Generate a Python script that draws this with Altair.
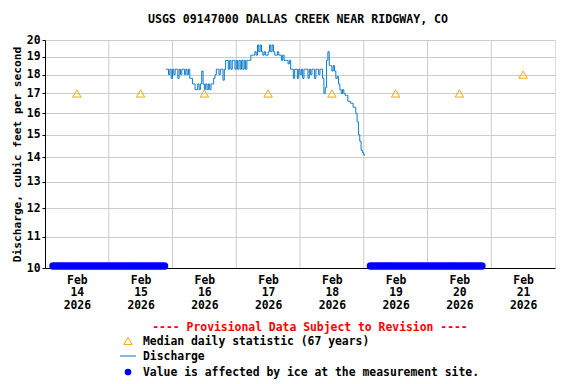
import altair as alt
import pandas as pd

FONT = "DejaVu Sans Mono"
FS = 11.4

# ---- data ----
flow_start = "2026-02-15T21:30:00"
flow_values = [
    18.3, 18.3, 18.0, 18.3, 17.8, 18.3, 18.0, 18.3, 18.3, 17.8, 18.3, 18.0, 18.3, 18.3, 18.0, 18.3, 18.0, 18.3,
    17.8, 17.8, 17.5, 17.5,
    17.2, 17.2, 17.5, 17.2, 17.5, 18.2, 17.5, 17.2, 17.5, 17.2, 17.5, 17.2, 17.5, 17.5,
    17.8, 18.0, 18.3, 18.3, 18.0, 18.3, 18.3,
    17.7, 18.3, 18.8,
    18.8, 18.3, 18.8, 18.3, 18.8, 18.8, 18.3, 18.8, 18.3, 18.8, 18.3, 18.8, 18.3, 18.8, 18.3, 18.8, 18.8, 18.8,
    19.1, 19.1, 19.1, 19.3, 19.1,
    19.7, 19.3, 19.7,
    19.3, 19.1, 19.3, 19.1, 19.1, 19.3,
    19.7, 19.3, 19.7, 19.3, 19.1,
    19.1, 19.3, 19.1, 19.1, 18.8, 19.1, 18.8,
    18.8, 18.8, 18.6, 18.8, 18.3,
    18.3, 17.8, 18.3, 18.3, 17.8, 18.3, 18.0, 18.3, 17.8, 18.3, 18.3, 18.3, 17.8, 18.3, 18.0, 18.3, 18.3, 17.8,
    18.3, 18.3, 18.0, 18.3, 18.3,
    17.8, 17.0, 17.3,
    18.8, 19.3, 18.5,
    18.5, 18.2, 18.5, 18.2, 17.8, 17.9,
    17.5, 17.2, 17.0, 17.2, 17.0,
    16.9, 16.9, 16.6, 16.6,
    16.5, 16.5, 16.3, 16.3,
    16.0, 15.6, 15.0,
    14.7, 14.3, 14.2,
    14.1, 14.1,
]

median_days = ["2026-02-14T12:00:00", "2026-02-15T12:00:00", "2026-02-16T12:00:00", "2026-02-17T12:00:00",
               "2026-02-18T12:00:00", "2026-02-19T12:00:00", "2026-02-20T12:00:00", "2026-02-21T12:00:00"]
median_values = [17, 17, 17, 17, 17, 17, 17, 18]

ice_periods = [("2026-02-14T03:00:00", "2026-02-15T21:00:00"),
               ("2026-02-19T02:30:00", "2026-02-20T21:00:00")]
ice_value = 10

midnights = ["2026-02-15", "2026-02-16", "2026-02-17", "2026-02-18",
             "2026-02-19", "2026-02-20", "2026-02-21"]
y_ticks = [10, 11, 12, 13, 14, 15, 16, 17, 18, 19, 20]
label_days = [14, 15, 16, 17, 18, 19, 20, 21]

title_text = "USGS 09147000 DALLAS CREEK NEAR RIDGWAY, CO"
y_title = "Discharge, cubic feet per second"
provisional = "---- Provisional Data Subject to Revision ----"
legend_labels = ["Median daily statistic (67 years)", "Discharge",
                 "Value is affected by ice at the measurement site."]

# ---- tables ----
flow_df = pd.DataFrame({
    "time": pd.date_range(flow_start, periods=len(flow_values), freq="30min"),
    "q": flow_values,
})
median_df = pd.DataFrame({"time": pd.to_datetime(median_days), "q": median_values})
ice_times = []
for s, e in ice_periods:
    ice_times.extend(pd.date_range(s, e, freq="60min"))
ice_df = pd.DataFrame({"time": ice_times, "q": ice_value})
grid_df = pd.DataFrame({"time": pd.to_datetime(midnights)})

W, H = 510, 228

xscale = alt.Scale(domain=[alt.DateTime(year=2026, month=2, date=14),
                           alt.DateTime(year=2026, month=2, date=22)])
yscale = alt.Scale(type="log", domain=[10, 20])

xaxis = alt.Axis(
    values=[alt.DateTime(year=2026, month=2, date=d, hours=12) for d in label_days],
    labelExpr="[timeFormat(datum.value, '%b'), timeFormat(datum.value, '%d'), timeFormat(datum.value, '%Y')]",
    grid=False, ticks=False, title=None, labelFont=FONT, labelFontWeight="bold",
    labelFontSize=FS, labelColor="black", labelLineHeight=12.5, labelPadding=6,
    domainColor="black",
)
yaxis = alt.Axis(
    values=y_ticks, format="d", grid=True, gridColor="#CCCCCC", tickSize=3,
    tickColor="black", domainColor="black", labelFont=FONT, labelFontWeight="bold",
    labelFontSize=FS, labelColor="black", labelPadding=2, title=y_title,
    titleFont=FONT, titleFontWeight="bold", titleFontSize=11.2, titleColor="black",
    titlePadding=4,
)

grid = alt.Chart(grid_df).mark_rule(color="#CCCCCC", strokeWidth=1).encode(
    x=alt.X("time:T", scale=xscale, axis=xaxis)
)

base_y = alt.Y("q:Q", scale=yscale, axis=yaxis)

line = alt.Chart(flow_df).mark_line(color="#0B7BC9", strokeWidth=1, interpolate="step-after").encode(
    x=alt.X("time:T", scale=xscale, axis=xaxis), y=base_y
)
med = alt.Chart(median_df).mark_point(shape="triangle-up", color="#FFA500", filled=False,
                                      size=70, strokeWidth=1, opacity=1).encode(
    x=alt.X("time:T", scale=xscale, axis=xaxis), y=base_y
)
ice = alt.Chart(ice_df).mark_circle(color="#0000FF", size=55, opacity=1, yOffset=-2).encode(
    x=alt.X("time:T", scale=xscale, axis=xaxis), y=base_y
)

def txt(text, x, y, color="black", align="left", size=FS):
    return alt.Chart(pd.DataFrame({"t": [text]})).mark_text(
        font=FONT, fontWeight="bold", fontSize=size, color=color, align=align, baseline="middle"
    ).encode(text="t:N", x=alt.value(x), y=alt.value(y))

title = txt(title_text, 253, -20, align="center", size=11.6)
prov = txt(provisional, 265, 288, color="#FF0000", align="center")
leg1_sym = alt.Chart(pd.DataFrame({"a": [0]})).mark_point(
    shape="triangle-up", color="#FFA500", filled=False, size=70, strokeWidth=1, opacity=1
).encode(x=alt.value(83), y=alt.value(301))
leg1 = txt(legend_labels[0], 98, 302)
leg2_sym = alt.Chart(pd.DataFrame({"a": [0]})).mark_rule(color="#0B7BC9", strokeWidth=1).encode(
    x=alt.value(75), x2=alt.value(91), y=alt.value(316)
)
leg2 = txt(legend_labels[1], 98, 317)
leg3_sym = alt.Chart(pd.DataFrame({"a": [0]})).mark_circle(color="#0000FF", size=45, opacity=1).encode(
    x=alt.value(83), y=alt.value(332)
)
leg3 = txt(legend_labels[2], 98, 333)

chart = alt.layer(
    grid, line, med, ice, title, prov, leg1_sym, leg1, leg2_sym, leg2, leg3_sym, leg3
).properties(
    width=W, height=H,
    autosize=alt.AutoSizeParams(type="none"),
    padding={"left": 37, "top": 32, "right": 13, "bottom": 112},
).configure_view(
    stroke="black", strokeWidth=1
).configure(background="white")

chart.save("out.html", embed_options={"renderer": "svg", "actions": False})
